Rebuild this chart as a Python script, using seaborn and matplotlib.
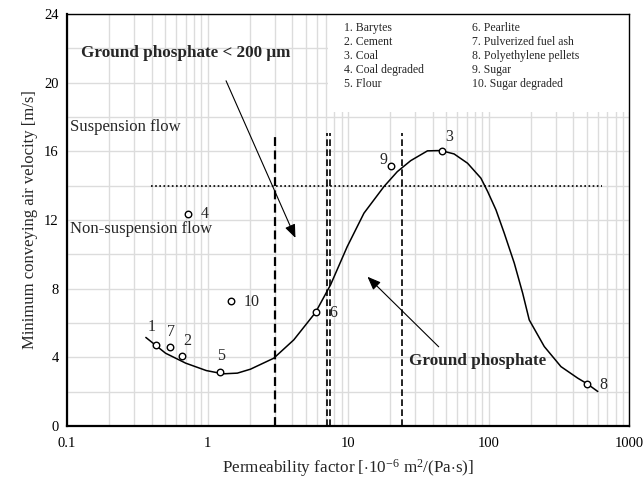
import numpy as np
import pandas as pd
import matplotlib
matplotlib.use("Agg")
import matplotlib.pyplot as plt
import seaborn as sns
from matplotlib.patches import Rectangle

sns.set_theme(style="white")
plt.rcParams['font.family'] = ['Liberation Serif', 'DejaVu Serif']
plt.rcParams['mathtext.fontset'] = 'custom'
plt.rcParams['mathtext.rm'] = 'Liberation Serif'
plt.rcParams['mathtext.it'] = 'Liberation Serif:italic'
plt.rcParams['mathtext.bf'] = 'Liberation Serif:bold'

# Materials (open circles)
mat_ids = ['1', '7', '2', '5', '10', '4', '6', '9', '3', '8']
mat_perm = [0.43, 0.54, 0.66, 1.22, 1.47, 0.73, 5.88, 20.1, 46.3, 497]
mat_vel = [4.72, 4.58, 4.06, 3.15, 7.3, 12.33, 6.62, 15.15, 16.04, 2.45]
label_perm = [0.40, 0.55, 0.72, 1.24, 2.06, 0.95, 7.8, 17.8, 52, 655]
label_vel = [5.73, 5.44, 4.97, 4.08, 7.24, 12.33, 6.56, 15.46, 16.85, 2.39]

# Trend curve
curve_perm = [0.364, 0.503, 0.70, 0.98, 1.29, 1.63, 2.02, 2.96, 4.11, 5.86, 7.5, 9.86,
              12.97, 18.0, 22.4, 27.9, 36.7, 45.7, 56.8, 70.8, 88.1, 98.4, 112.8, 129.2,
              152.2, 174.6, 194.5, 248.8, 327, 430, 502, 598]
curve_vel = [5.15, 4.23, 3.65, 3.22, 3.03, 3.07, 3.30, 3.94, 5.01, 6.6, 8.21, 10.44,
             12.39, 13.94, 14.81, 15.45, 16.02, 16.04, 15.84, 15.3, 14.43, 13.65, 12.58,
             11.22, 9.48, 7.73, 6.17, 4.62, 3.45, 2.78, 2.45, 2.0]

# Ground phosphate boundaries
gp_bounds = [3.0, 24.3]
fine_bounds = [7.05, 7.44]
bound_top = [16.85, 17.05]
susp_limit = 14.0
susp_range = [0.397, 645]

legend_left = ['1. Barytes', '2. Cement', '3. Coal', '4. Coal degraded', '5. Flour']
legend_right = ['6. Pearlite', '7. Pulverized fuel ash', '8. Polyethylene pellets',
                '9. Sugar', '10. Sugar degraded']
legend_rows = [23.16, 22.35, 21.53, 20.72, 19.9]

points = pd.DataFrame({'perm': mat_perm, 'vel': mat_vel})
curve = pd.DataFrame({'perm': curve_perm, 'vel': curve_vel})

fig = plt.figure(figsize=(6.44, 4.79), dpi=100)
ax = fig.add_axes([0.104, 0.111, 0.873, 0.860])
ax.set_xscale('log')
ax.set_xlim(0.1, 1000)
ax.set_ylim(0, 24)

# grid
ax.set_yticks(np.arange(0, 25, 4))
ax.set_yticks(np.arange(2, 24, 4), minor=True)
ax.grid(True, which='both', color='#dcdcdc', lw=1.0)
ax.set_axisbelow(True)
ax.add_patch(Rectangle((0.464, 0.762), 0.536, 0.238, transform=ax.transAxes,
                       facecolor='white', edgecolor='none', zorder=0.8))

sns.lineplot(data=curve, x='perm', y='vel', color='black', lw=1.1, ax=ax, sort=False,
             zorder=3)
sns.scatterplot(data=points, x='perm', y='vel', marker='o', s=22, facecolor='white',
                edgecolor='black', linewidth=1.0, ax=ax, zorder=4)

for lab, x, y in zip(mat_ids, label_perm, label_vel):
    ax.text(x, y, lab, fontsize=11.5, ha='center', va='center')

# boundaries
ax.plot([gp_bounds[0]] * 2, [0, bound_top[0]], color='black', lw=1.6, ls=(0, (4, 2)))
ax.plot([gp_bounds[1]] * 2, [0, bound_top[1]], color='black', lw=1.2, ls=(0, (4, 2)))
for xb in fine_bounds:
    ax.plot([xb, xb], [0, bound_top[1]], color='black', lw=1.2, ls=(0, (4, 2)))
ax.plot(susp_range, [susp_limit] * 2, color='black', lw=1.2, ls=(0, (1, 1.5)))

ax.text(0.105, 17.4, 'Suspension flow', fontsize=12, va='center')
ax.text(0.105, 11.46, 'Non-suspension flow', fontsize=12, va='center')
ax.text(0.126, 21.7, 'Ground phosphate < 200 μm', fontsize=12.3, fontweight='bold',
        va='center')
ax.text(27, 3.75, 'Ground phosphate', fontsize=12.3, fontweight='bold', va='center')

arrow = dict(arrowstyle='-|>,head_length=0.45,head_width=0.18', color='black', lw=0.8,
             mutation_scale=18)
ax.annotate('', xy=(4.3, 10.8), xytext=(1.33, 20.25), arrowprops=arrow)
ax.annotate('', xy=(13.3, 8.8), xytext=(45.6, 4.49), arrowprops=arrow)

for t, y in zip(legend_left, legend_rows):
    ax.text(9.35, y, t, fontsize=8.5, va='center')
for t, y in zip(legend_right, legend_rows):
    ax.text(76, y, t, fontsize=8.5, va='center')

ax.set_xticks([0.1, 1, 10, 100, 1000])
ax.set_xticklabels(['0.1', '1', '10', '100', '1000'])
ax.tick_params(axis='both', which='both', direction='in', labelsize=10.5,
               colors='black', length=4, width=1)
ax.tick_params(axis='x', which='major', pad=8)
ax.tick_params(axis='y', which='major', pad=6)

for side in ['left', 'bottom']:
    ax.spines[side].set_linewidth(1.6)
    ax.spines[side].set_color('black')
for side in ['top', 'right']:
    ax.spines[side].set_linewidth(1.0)
    ax.spines[side].set_color('black')

ax.set_xlabel(r'Permeability factor [$\cdot$10$^{-6}$ m$^{2}$/(Pa$\cdot$s)]', fontsize=12.3,
              labelpad=5)
ax.set_ylabel('Minimum conveying air velocity [m/s]', fontsize=12, labelpad=4)

fig.savefig('out.png', dpi=100)
